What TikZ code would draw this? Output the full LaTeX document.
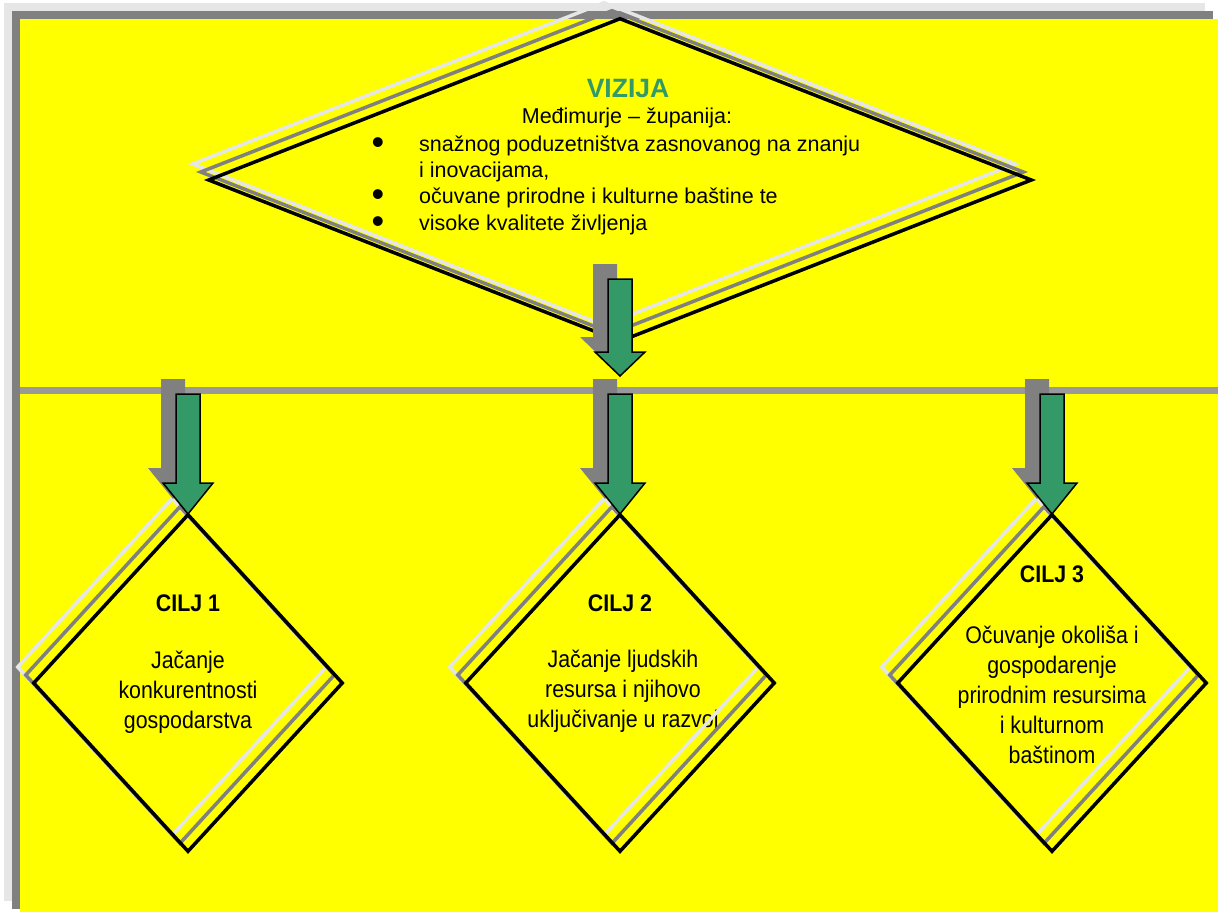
\documentclass[tikz,border=0pt]{standalone}
\usepackage{fontspec}
\setmainfont{Liberation Sans}
\newfontfamily\goalfont{Liberation Sans}[FakeStretch=0.89]
\usetikzlibrary{shapes.geometric}
\definecolor{coloryellow} {RGB}{255,255,  0}
\definecolor{colorgrey}   {RGB}{128,128,128}
\definecolor{colorlight}  {RGB}{230,230,230}
\definecolor{colorline}   {RGB}{153,153,153}
\definecolor{colorgreen}  {RGB}{ 51,153,102}

\begin{document}
\begin{tikzpicture}[
    x=1pt, y=-1pt,
    rimfar/.style={draw=colorlight,line width=3.5pt},
    rimnear/.style={draw=colorgrey,line width=3.5pt},
    rimblack/.style={draw=black,line width=3.5pt},
    visionshape/.style={diamond,inner sep=0pt,minimum width=824pt,minimum height=324pt},
    goalshape/.style={diamond,inner sep=0pt,minimum width=310pt,minimum height=338pt},
    divider/.style={colorline,line width=7pt},
    arrowshadow/.style={fill=colorgrey},
    arrowgreen/.style={fill=colorgreen,draw=black,line width=1.5pt},
    visiontitle/.style={text=colorgreen,font={\bfseries\fontsize{26.5}{32}\selectfont},inner sep=0pt,anchor=base},
    visiontext/.style={font={\fontsize{21.5}{26.2}\selectfont},inner sep=0pt},
    bulletmarks/.style={font={\fontsize{36}{26.2}\selectfont},align=center,inner sep=0pt,anchor=base},
    goaltitle/.style={font={\goalfont\bfseries\fontsize{24}{30}\selectfont},inner sep=0pt,anchor=base},
    goaltext/.style={font={\goalfont\fontsize{24}{30}\selectfont},align=center,inner sep=0pt,anchor=base},
    pics/blockdown/.style args={#1/#2}{code={
        \path[pic actions] (-12,0) -- (-12,#1) -- (-25,#1) -- (0,#2) -- (25,#1) -- (12,#1) -- (12,0) -- cycle;
    }},
]

    \useasboundingbox (0,0) rectangle (1218,911);

    % Frame
    \fill[colorlight] (4,3) rectangle (1205,901);
    \fill[colorgrey] (12,11) rectangle (1213,909);
    \fill[coloryellow] (20,19) rectangle (1230,925);

    % Divider
    \coordinate (lineleft) at (20,390);
    \coordinate (lineright) at (1218,390);
    \draw[divider] (lineleft) -- (lineright);

    % Vision text (multi-line nodes sit on their last baseline)
    \node[visiontitle] (vizija) at (628,97) {VIZIJA};
    \node[visiontext,anchor=base] (county) at (627,123) {Međimurje – županija:};
    \node[bulletmarks] (bullets) at (378,233) {•\\\mbox{}\\•\\•};
    \node[visiontext,align=left,anchor=base west] (items) at (419,230)
        {snažnog poduzetništva zasnovanog na znanju\\i inovacijama,\\očuvane prirodne i kulturne baštine te\\visoke kvalitete življenja};

    % Goal texts
    \node[goaltitle] (cilj1) at (188,611) {CILJ 1};
    \node[goaltext] (text1) at (188,728) {Jačanje\\konkurentnosti\\gospodarstva};
    \node[goaltitle] (cilj2) at (620,611) {CILJ 2};
    \node[goaltext] (text2) at (623,727) {Jačanje ljudskih\\resursa i njihovo\\uključivanje u razvoj};
    \node[goaltitle] (cilj3) at (1052,582) {CILJ 3};
    \node[goaltext] (text3) at (1052,763) {Očuvanje okoliša i\\gospodarenje\\prirodnim resursima\\i kulturnom\\baštinom};

    % Vision diamond
    \node[visionshape,rimfar] (visionfar) at (604,164) {};
    \node[visionshape,rimnear] (visionnear) at (612,172) {};
    \node[visionshape,rimblack] (vision) at (620,180) {};

    % Goal diamonds
    \node[goalshape,rimfar] (goal1far) at (172,667) {};
    \node[goalshape,rimnear] (goal1near) at (180,675) {};
    \node[goalshape,rimblack] (goal1) at (188,683) {};
    \node[goalshape,rimfar] (goal2far) at (604,667) {};
    \node[goalshape,rimnear] (goal2near) at (612,675) {};
    \node[goalshape,rimblack] (goal2) at (620,683) {};
    \node[goalshape,rimfar] (goal3far) at (1036,667) {};
    \node[goalshape,rimnear] (goal3near) at (1044,675) {};
    \node[goalshape,rimblack] (goal3) at (1052,683) {};

    % Arrows
    \pic[arrowshadow] at (605,264) {blockdown=73/97};
    \pic[arrowgreen] at (620,279) {blockdown=73/97};
    \pic[arrowshadow] at (173,379) {blockdown=89/120};
    \pic[arrowgreen] at (188,394) {blockdown=89/120};
    \pic[arrowshadow] at (605,379) {blockdown=89/120};
    \pic[arrowgreen] at (620,394) {blockdown=89/120};
    \pic[arrowshadow] at (1037,379) {blockdown=89/120};
    \pic[arrowgreen] at (1052,394) {blockdown=89/120};

\end{tikzpicture}
\end{document}
